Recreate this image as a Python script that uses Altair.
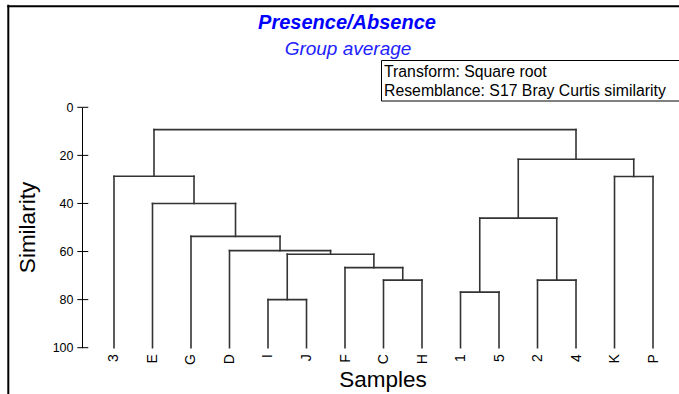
import json
import altair as alt
import pandas as pd

# ---------------- data ----------------
leaves = ["3", "E", "G", "D", "I", "J", "F", "C", "H", "1", "5", "2", "4", "K", "P"]
merge_a = ["I", "C", "F", "m1", "D", "G", "E", "3", "1", "2", "m9", "K", "m11", "m8"]
merge_b = ["J", "H", "m2", "m3", "m4", "m5", "m6", "m7", "5", "4", "m10", "P", "m12", "m13"]
merge_height = [80.0, 71.9, 66.7, 61.1, 59.6, 53.7, 40.0, 28.7, 76.9, 71.9, 46.1, 28.8, 21.6, 9.3]
y_ticks = [0, 20, 40, 60, 80, 100]

title_text = "Presence/Absence"
subtitle_text = "Group average"
box_lines = ["Transform: Square root", "Resemblance: S17 Bray Curtis similarity"]
x_title = "Samples"
y_title = "Similarity"

# ---------------- build dendrogram segments ----------------
pos = {name: (float(i), 100.0) for i, name in enumerate(leaves)}
segs = []
for k, (a, b, h) in enumerate(zip(merge_a, merge_b, merge_height)):
    xa, ya = pos[a]
    xb, yb = pos[b]
    segs.append(dict(x=xa, x2=xa, y=ya, y2=h))
    segs.append(dict(x=xb, x2=xb, y=yb, y2=h))
    segs.append(dict(x=xa, x2=xb, y=h, y2=h))
    pos[f"m{k + 1}"] = ((xa + xb) / 2.0, h)
seg_df = pd.DataFrame(segs)
tick_df = pd.DataFrame({"t": y_ticks})
one = pd.DataFrame({"d": [0]})

FONT = "Liberation Sans"

xscale = alt.Scale(domain=[-0.831, 14.675], nice=False, zero=False)
yscale = alt.Scale(domain=[0, 100], reverse=True, nice=False, zero=False)

label_expr = json.dumps(leaves) + "[datum.value]"

xaxis = alt.Axis(
    values=list(range(len(leaves))), labelExpr=label_expr, title=None,
    domain=False, ticks=False, tickSize=0, grid=False,
    labelAngle=270, labelAlign="right", labelBaseline="middle",
    labelPadding=6, labelFont=FONT, labelFontSize=14, labelColor="black",
    labelOverlap=False, labelFlush=False,
)
yaxis = alt.Axis(
    values=y_ticks, title=None, domain=True, domainColor="black", domainWidth=1,
    ticks=False, tickSize=0, grid=False, labelPadding=9,
    labelFont=FONT, labelFontSize=12.5, labelColor="black",
    labelOverlap=False, labelFlush=False,
)

dendro = alt.Chart(seg_df).mark_rule(color="#333333", strokeWidth=1.6, strokeCap="square").encode(
    x=alt.X("x:Q", scale=xscale, axis=xaxis),
    x2="x2:Q",
    y=alt.Y("y:Q", scale=yscale, axis=yaxis),
    y2="y2:Q",
)

ticks = alt.Chart(tick_df).mark_rule(color="black", strokeWidth=1).encode(
    x=alt.value(-4.7), x2=alt.value(6.3),
    y=alt.Y("t:Q", scale=yscale, axis=yaxis),
)

def txt(text, x, y, size, **kw):
    return alt.Chart(one).mark_text(text=text, font=FONT, fontSize=size, **kw).encode(
        x=alt.value(x), y=alt.value(y)
    )

title = txt(title_text, 265, -78.5, 20, fontStyle="italic", fontWeight="bold",
            color="#0000ff", align="center", baseline="alphabetic")
subtitle = txt(subtitle_text, 266, -52.5, 19, fontStyle="italic",
               color="#2222ff", align="center", baseline="alphabetic")

box = alt.Chart(one).mark_rect(fill="white", stroke="black", strokeWidth=1).encode(
    x=alt.value(299.5), x2=alt.value(640), y=alt.value(-46.8), y2=alt.value(-6.3)
)
box1 = txt(box_lines[0], 302, -30.8, 15.8, color="black", align="left", baseline="alphabetic")
box2 = txt(box_lines[1], 302, -11.5, 15.8, color="black", align="left", baseline="alphabetic")

xt = txt(x_title, 301, 279.7, 22.5, color="black", align="center", baseline="alphabetic")
yt = txt(y_title, -54, 120.2, 22.5, color="black", align="center", baseline="middle", angle=270)

frame_left = alt.Chart(one).mark_rule(color="black", strokeWidth=2).encode(
    x=alt.value(-73.7), y=alt.value(-102.5), y2=alt.value(290)
)
frame_top = alt.Chart(one).mark_rule(color="black", strokeWidth=2).encode(
    x=alt.value(-74.7), x2=alt.value(600), y=alt.value(-101)
)

chart = alt.layer(
    dendro, ticks, title, subtitle, box, box1, box2, xt, yt, frame_left, frame_top
).properties(
    width=597, height=240.4,
    autosize=alt.AutoSizeParams(type="none"),
    padding={"left": 82, "top": 107.3, "right": 0, "bottom": 46.3},
    background="white",
).configure_view(strokeWidth=0)

chart.save("out.html", embed_options={"renderer": "svg", "actions": False})
